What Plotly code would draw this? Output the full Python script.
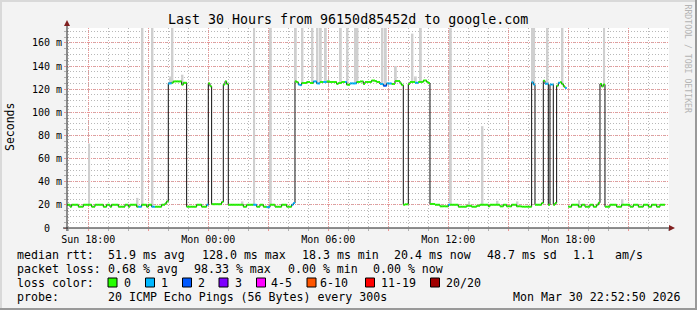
import plotly.graph_objects as go
from datetime import datetime, timedelta

# ---------------- data ----------------
START = datetime(2026, 3, 29, 16, 55)      # first 5-minute step (Sun 16:55)
STEP = timedelta(minutes=5)

# median rtt in ms per 5-minute step, written as (value, number of steps); None = no data
median_runs = [
    # Sun 16:55 - 22:00
    (20.1, 2), (18.4, 1), (20.1, 4), (18.4, 3), (20.1, 5), (18.4, 2), (20.1, 5), (18.4, 2),
    (20.1, 2), (18.4, 1), (20.1, 4), (18.4, 4), (20.1, 2), (18.4, 1), (20.1, 4), (18.4, 3),
    (20.1, 3), (18.4, 1), (20.1, 2), (18.4, 6), (20.1, 2), (21.3, 1), (23.0, 1),
    # 22:00 - 22:55
    (125.0, 2), (125.6, 1), (126.7, 5), (123.9, 1), (125.5, 2),
    # 22:55 - 00:00
    (18.4, 6), (20.1, 3), (18.4, 3), (20.1, 1),
    # 00:00 - 01:00
    (125.0, 1), (122.5, 1), (20.6, 6), (22.5, 1), (124.0, 1), (126.7, 1), (124.5, 1),
    # 01:00 - 04:20
    (20.1, 9), (18.4, 2), (20.1, 6), (18.4, 2), (20.1, 2), (18.4, 2), (18.0, 2), (20.1, 3),
    (18.4, 4), (20.1, 3), (18.4, 3), (20.1, 1), (21.5, 1),
    # 04:20 - 09:45
    (126.7, 1), (126.0, 1), (124.0, 1), (123.5, 1), (125.3, 3), (126.2, 2), (125.3, 2),
    (126.7, 2), (125.0, 2), (126.2, 4), (126.7, 2), (126.2, 4), (124.5, 1), (125.3, 2),
    (126.2, 3), (123.9, 2), (125.0, 4), (126.2, 2), (126.7, 2), (124.5, 1), (126.2, 4),
    (127.5, 2), (127.0, 1), (126.2, 2), (124.5, 2), (123.0, 2), (125.0, 3), (124.5, 2),
    (127.0, 3), (125.0, 1), (123.5, 1),
    # 09:45 - 10:00
    (20.1, 1), (20.5, 2),
    # 10:00 - 11:05
    (124.5, 1), (126.2, 3), (125.5, 2), (126.2, 3), (127.5, 2), (126.2, 1), (125.3, 1),
    # 11:05 - 16:10
    (20.8, 3), (20.1, 3), (18.7, 5), (20.1, 1), (20.1, 5), (18.4, 5), (19.2, 3), (18.4, 3),
    (19.2, 2), (20.1, 5), (18.7, 1), (20.1, 6), (18.7, 2), (20.1, 2), (18.7, 3), (20.1, 3),
    (18.7, 3), (18.4, 6),
    # 16:10 - 17:55
    (125.9, 1), (124.0, 1), (20.1, 4), (21.6, 1), (127.3, 1), (124.7, 2), (20.1, 1),
    (124.0, 2), (20.1, 1), (21.6, 1), (123.0, 1), (125.5, 1), (126.0, 1), (124.5, 1),
    (122.5, 1), (121.0, 1),
    # 17:55 - 18:00 no data
    (None, 1),
    # 18:00 - 19:35
    (18.4, 2), (20.1, 4), (18.4, 2), (20.1, 2), (18.4, 3), (20.1, 2), (18.4, 2), (20.1, 1),
    (21.8, 1),
    # 19:35 - 19:50
    (124.5, 1), (122.4, 1), (124.0, 1),
    # 19:50 - 22:50
    (18.4, 3), (20.1, 4), (18.4, 3), (20.1, 5), (18.4, 2), (20.1, 3), (18.4, 3), (20.1, 3),
    (18.4, 2), (20.1, 3), (18.4, 2), (20.1, 3),
]

# lost pings (of 20) per step index; all other steps lost 0
loss_pings = {
    43: 1, 44: 1, 51: 1, 52: 1, 61: 1, 62: 1, 84: 1, 112: 1, 113: 1, 120: 1, 121: 1,
    135: 1, 136: 1, 139: 1, 140: 1, 148: 1, 149: 1, 150: 1, 151: 1, 154: 1, 155: 1,
    167: 1, 170: 1, 171: 1, 172: 1, 173: 1, 188: 1, 189: 1, 190: 2, 191: 2, 192: 1,
    193: 1, 194: 1, 209: 1, 210: 1, 229: 1, 279: 1, 280: 1, 287: 1, 288: 1, 290: 1,
    291: 1, 295: 1, 299: 1,
}

# smoke: highest ping (ms) per step index where the spread is visible
smoke_top = {
    13: 73, 42: 26, 45: 200, 51: 200, 62: 131, 63: 200, 69: 132.5, 105: 23, 112: 200,
    122: 200, 137: 200, 141: 200, 147: 200, 150: 200, 152: 200, 155: 200, 164: 200,
    168: 200, 173: 200, 174: 200, 189: 200, 191: 200, 197: 140, 207: 168, 209: 131,
    212: 200, 230: 200, 241: 23, 249: 88, 258: 23.5, 270: 23, 279: 200, 280: 200,
    288: 200, 297: 200, 307: 24, 322: 200, 333: 25,
}

x_range = ["2026-03-29 16:56:06", "2026-03-30 23:02:06"]
x_tick_times = ["2026-03-29 18:00", "2026-03-29 21:00", "2026-03-30 00:00", "2026-03-30 03:00",
                "2026-03-30 06:00", "2026-03-30 09:00", "2026-03-30 12:00", "2026-03-30 15:00",
                "2026-03-30 18:00", "2026-03-30 21:00"]
x_tick_text = ["Sun 18:00", "", "Mon 00:00", "", "Mon 06:00", "", "Mon 12:00", "",
               "Mon 18:00", ""]
y_tick_vals = [0, 20, 40, 60, 80, 100, 120, 140, 160]
y_tick_text = ["0\u00a0\u00a0", "20 m", "40 m", "60 m", "80 m", "100 m", "120 m", "140 m", "160 m"]

loss_bins = ["0", "1", "2", "3", "4-5", "6-10", "11-19", "20/20"]
loss_bin_max = [0, 1, 2, 3, 5, 10, 19, 20]
loss_colors = ["#26ff00", "#00b8ff", "#0059ff", "#7e00ff", "#ff00ff", "#ff5500", "#ff0000", "#a10000"]

median_stats = ["51.9 ms avg", "128.0 ms max", "18.3 ms min", "20.4 ms now", "48.7 ms sd", "1.1", "am/s"]
loss_stats = ["0.68 % avg", "98.33 % max", "0.00 % min", "0.00 % now"]
probe_text = "20 ICMP Echo Pings (56 Bytes) every 300s"
stamp_text = "Mon Mar 30 22:52:50 2026"
title_text = "Last 30 Hours from 96150d85452d to google.com"

# ---------------- build ----------------
medians = []
for v, n in median_runs:
    medians += [v] * n
N = len(medians)
times = [START + STEP * i for i in range(N + 1)]

W, H = 697, 310
PL, PT, PW, PH = 67, 28, 602, 200
YMAX = 200 / 1.157
MONO = "DejaVu Sans Mono"


def px(x):
    return (x - PL) / PW


def py(y):
    return (PT + PH - y) / PH


fig = go.Figure()

# smoke
sx, sb, sh = [], [], []
for i, top in smoke_top.items():
    m = medians[i]
    sx.append(times[i] + STEP / 2)
    sb.append(m)
    sh.append(top - m)
fig.add_trace(go.Bar(x=sx, y=sh, base=sb, width=STEP.total_seconds() * 1000 * 1.15,
                     marker=dict(color="#cfcfcf", line=dict(width=0)),
                     hoverinfo="skip", showlegend=False))

# black median step line
bx, by = [], []
prev_ok = False
for i, v in enumerate(medians):
    if v is None:
        if prev_ok:
            bx.append(None)
            by.append(None)
        prev_ok = False
        continue
    bx += [times[i], times[i + 1]]
    by += [v, v]
    prev_ok = True
fig.add_trace(go.Scatter(x=bx, y=by, mode="lines", line=dict(color="#111111", width=1),
                         connectgaps=False, hoverinfo="skip", showlegend=False))


def bin_of(loss):
    for k, mx in enumerate(loss_bin_max):
        if loss <= mx:
            return k
    return len(loss_bin_max) - 1


for k, col in enumerate(loss_colors):
    cx, cy = [], []
    for i, v in enumerate(medians):
        if v is None or bin_of(loss_pings.get(i, 0)) != k:
            continue
        cx += [times[i], times[i + 1], None]
        cy += [v, v, None]
    if cx:
        fig.add_trace(go.Scatter(x=cx, y=cy, mode="lines", line=dict(color=col, width=2),
                                 connectgaps=False, hoverinfo="skip", showlegend=False))

shapes = []
annotations = []

# frame (3D border)
shapes += [
    dict(type="rect", xref="paper", yref="paper", x0=px(0), x1=px(W), y0=py(0), y1=py(2),
         fillcolor="#d9d9d9", line=dict(width=0), layer="below"),
    dict(type="rect", xref="paper", yref="paper", x0=px(0), x1=px(2), y0=py(0), y1=py(H),
         fillcolor="#d9d9d9", line=dict(width=0), layer="below"),
    dict(type="rect", xref="paper", yref="paper", x0=px(0), x1=px(W), y0=py(H - 2), y1=py(H),
         fillcolor="#999999", line=dict(width=0), layer="below"),
    dict(type="rect", xref="paper", yref="paper", x0=px(W - 2), x1=px(W), y0=py(0), y1=py(H),
         fillcolor="#999999", line=dict(width=0), layer="below"),
]

# axes + arrows
shapes += [
    dict(type="line", xref="paper", yref="paper", x0=px(67), x1=px(67), y0=py(231), y1=py(24),
         line=dict(color="#1f1f1f", width=1)),
    dict(type="line", xref="paper", yref="paper", x0=px(63), x1=px(670), y0=py(228), y1=py(228),
         line=dict(color="#1f1f1f", width=1)),
    dict(type="path", xref="paper", yref="paper",
         path=f"M {px(67)},{py(20)} L {px(64)},{py(26)} L {px(70)},{py(26)} Z",
         fillcolor="#801f1f", line=dict(width=0)),
    dict(type="path", xref="paper", yref="paper",
         path=f"M {px(675)},{py(228)} L {px(669)},{py(225)} L {px(669)},{py(231)} Z",
         fillcolor="#801f1f", line=dict(width=0)),
]


def text(x, y, s, size=11.6, color="#000000", anchor="left", angle=0):
    annotations.append(dict(xref="paper", yref="paper", x=px(x), y=py(y), text=s,
                            showarrow=False, xanchor=anchor, yanchor="middle",
                            textangle=angle, borderpad=0,
                            font=dict(family=MONO, size=size, color=color)))


text(348, 19, title_text, size=13.3, anchor="center")
text(10, 127, "Seconds", size=11.5, anchor="center", angle=-90)
text(687.5, 59, "RRDTOOL / TOBI OETIKER", size=8.2, color="#b4b4b4", anchor="center", angle=90)

row1_x = [107, 200.5, 301, 393, 486, 572, 614]
text(15.5, 254.5, "median rtt:")
for xx, s in zip(row1_x, median_stats):
    text(xx, 254.5, s)

row2_x = [107, 193, 286.5, 372]
text(15.5, 268.5, "packet loss:")
for xx, s in zip(row2_x, loss_stats):
    text(xx, 268.5, s)

box_x = [108, 145.5, 182.5, 219, 256.5, 307, 365.5, 430.5]
lab_x = [122.5, 160, 197, 233.5, 270, 318.5, 380, 444.5]
text(15.5, 282.5, "loss color:")
for bx0, lx, lab, col in zip(box_x, lab_x, loss_bins, loss_colors):
    shapes.append(dict(type="rect", xref="paper", yref="paper", x0=px(bx0), x1=px(bx0 + 9),
                       y0=py(278), y1=py(287), fillcolor=col,
                       line=dict(color="#000000", width=1)))
    text(lx, 282.5, lab)

text(15.5, 296.5, "probe:")
text(107, 296.5, probe_text)
text(512, 296.5, stamp_text)

fig.update_layout(
    width=W, height=H, autosize=False,
    margin=dict(l=PL, r=W - PL - PW, t=PT, b=H - PT - PH, pad=0),
    paper_bgcolor="#f3f3f3", plot_bgcolor="#ffffff",
    showlegend=False, barmode="overlay",
    shapes=shapes, annotations=annotations,
    xaxis=dict(type="date", range=x_range, tickmode="array", tickvals=x_tick_times,
               ticktext=x_tick_text, showgrid=True, gridcolor="#eb9595", griddash="1px,1px",
               gridwidth=1, ticks="outside", ticklen=2, tickcolor="#eb9595", zeroline=False,
               showline=False, tickfont=dict(family=MONO, size=10, color="#000000"),
               minor=dict(dtick=3600000, tick0="2026-03-29 18:00", showgrid=True,
                          gridcolor="#b8b8b8", griddash="1px,2px", gridwidth=1,
                          ticks="outside", ticklen=2, tickcolor="#b0b0b0")),
    yaxis=dict(range=[0, YMAX], tickmode="array", tickvals=y_tick_vals, ticktext=y_tick_text,
               showgrid=True, gridcolor="#eb9595", griddash="1px,1px", gridwidth=1,
               ticks="outside", ticklen=2, tickcolor="#eb9595", zeroline=False,
               showline=False, tickfont=dict(family=MONO, size=10, color="#000000"),
               minor=dict(dtick=5, tick0=0, showgrid=True, gridcolor="#b8b8b8",
                          griddash="1px,2px", gridwidth=1, ticks="outside", ticklen=2,
                          tickcolor="#b0b0b0")),
)

fig.write_html("out.html")
